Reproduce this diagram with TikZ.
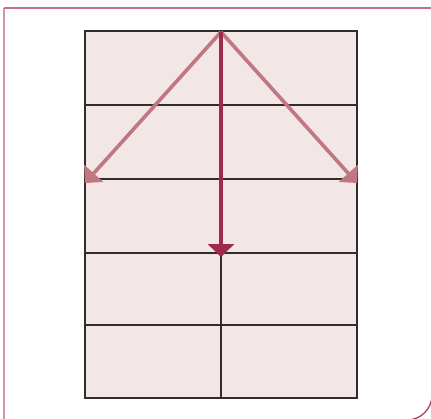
\documentclass[tikz,border=0pt]{standalone}
\usetikzlibrary{arrows.meta}
\definecolor{cellfill}{HTML}{F2E6E7}
\definecolor{gridline}{HTML}{332C2D}
\definecolor{sidearrow}{HTML}{C07782}
\definecolor{downarrow}{HTML}{9E2A50}
\definecolor{frameleft}{HTML}{D692AE}
\definecolor{frametop}{HTML}{C4708B}
\definecolor{framearc}{HTML}{A8345F}
\tikzset{
  gridrule/.style={draw=gridline,line width=1.1bp},
  sideflow/.style={draw=sidearrow,line width=3.6bp,-{Triangle[length=13bp,width=25bp]}},
  downflow/.style={draw=downarrow,line width=3.6bp,-{Triangle[length=13bp,width=26bp]}},
}
\begin{document}
\begin{tikzpicture}[x=1bp,y=-1bp]
\useasboundingbox (0,0) rectangle (431,419);
% outer frame
\draw[frameleft,line width=1.5bp] (4,420) -- (4,8);
\draw[frametop,line width=1.5bp] (4,8) -- (432,8) -- (432,395);
\draw[framearc,line width=1.2bp] (432,395) arc[start angle=0,end angle=90,radius=25] -- (4,420);
% grid
\coordinate (tl) at (85,31);
\coordinate (br) at (357,398);
\fill[cellfill] (tl) rectangle (br);
\foreach \yy in {105,179,253,325}{
  \draw[gridrule] (85,\yy) -- (357,\yy);
}
\draw[gridrule] (221,31) -- (221,398);
\draw[draw=gridline,line width=1.4bp] (tl) rectangle (br);
% arrows
\coordinate (apex) at (221,32);
\coordinate (lefttip) at (85,183);
\coordinate (righttip) at (357,183);
\coordinate (downtip) at (221,257);
\draw[sideflow] (apex) -- (lefttip);
\draw[sideflow] (apex) -- (righttip);
\draw[downflow] (apex) -- (downtip);
\end{tikzpicture}
\end{document}
